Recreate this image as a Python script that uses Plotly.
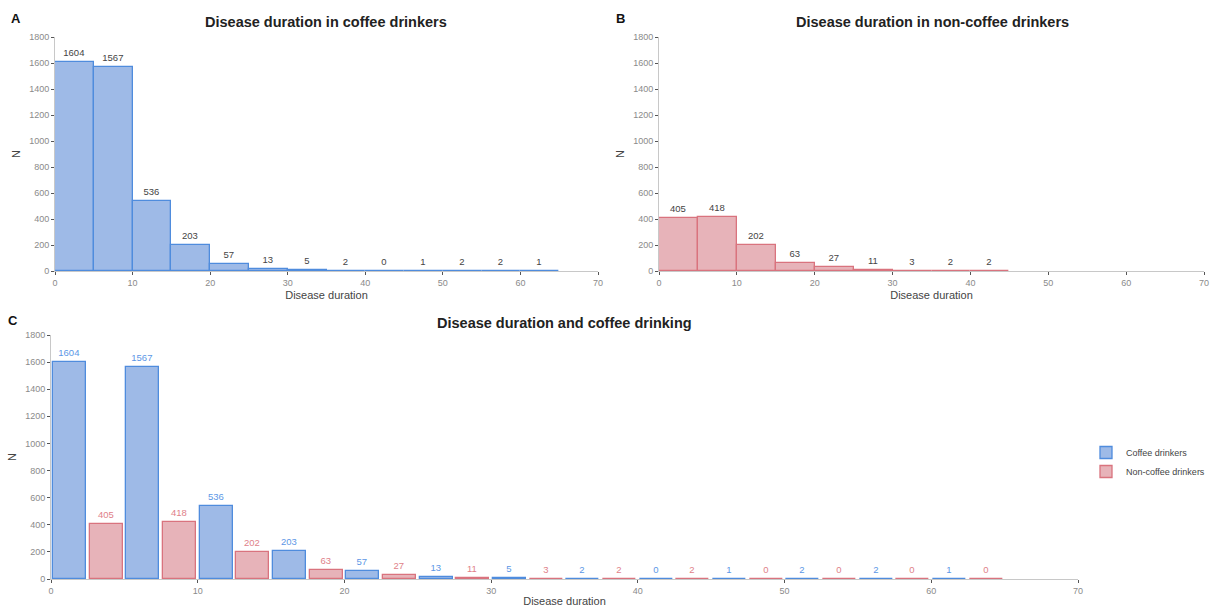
import plotly.graph_objects as go

# Histogram bins (disease duration, 5-year bins)
bin_starts = [0, 5, 10, 15, 20, 25, 30, 35, 40, 45, 50, 55, 60]
bin_width = 5
coffee_counts = [1604, 1567, 536, 203, 57, 13, 5, 2, 0, 1, 2, 2, 1]
noncoffee_counts = [405, 418, 202, 63, 27, 11, 3, 2, 2, 0, 0, 0, 0]
noncoffee_bins_shown = 9  # panel B histogram stops at 45

x_ticks = [0, 10, 20, 30, 40, 50, 60, 70]
y_ticks = [0, 200, 400, 600, 800, 1000, 1200, 1400, 1600, 1800]

BLUE_FILL = "rgba(120,160,222,0.72)"
BLUE_LINE = "#4F8CDD"
RED_FILL = "rgba(222,150,158,0.72)"
RED_LINE = "#D9737E"
BLUE_TEXT = "#5C97E6"
RED_TEXT = "#E07F89"
FONT = "Liberation Sans, Arial, sans-serif"

W, H = 1218, 607


def px_x(p):
    return p / W


def px_y(p):
    return 1 - p / H


fig = go.Figure()

centers = [s + bin_width / 2 for s in bin_starts]

# Panel A: coffee drinkers
fig.add_trace(go.Bar(
    x=centers, y=coffee_counts, width=bin_width,
    marker=dict(color=BLUE_FILL, line=dict(color=BLUE_LINE, width=1.3)),
    text=[str(v) for v in coffee_counts], textposition="outside",
    textfont=dict(size=9.5, color="#444", family=FONT),
    cliponaxis=False, showlegend=False, xaxis="x", yaxis="y",
))

# Panel B: non-coffee drinkers
nc = noncoffee_counts[:noncoffee_bins_shown]
fig.add_trace(go.Bar(
    x=centers[:noncoffee_bins_shown], y=nc, width=bin_width,
    marker=dict(color=RED_FILL, line=dict(color=RED_LINE, width=1.3)),
    text=[str(v) for v in nc], textposition="outside",
    textfont=dict(size=9.5, color="#444", family=FONT),
    cliponaxis=False, showlegend=False, xaxis="x2", yaxis="y2",
))

# Panel C: dodged bars, two groups per bin
half = bin_width / 2
dodge_w = half * 0.9
fig.add_trace(go.Bar(
    name="Coffee drinkers",
    x=[s + half / 2 for s in bin_starts], y=coffee_counts, width=dodge_w,
    marker=dict(color=BLUE_FILL, line=dict(color=BLUE_LINE, width=1.3)),
    text=[str(v) for v in coffee_counts], textposition="outside",
    textfont=dict(size=9.5, color=BLUE_TEXT, family=FONT),
    cliponaxis=False, xaxis="x3", yaxis="y3",
))
fig.add_trace(go.Bar(
    name="Non-coffee drinkers",
    x=[s + 3 * half / 2 for s in bin_starts], y=noncoffee_counts, width=dodge_w,
    marker=dict(color=RED_FILL, line=dict(color=RED_LINE, width=1.3)),
    text=[str(v) for v in noncoffee_counts], textposition="outside",
    textfont=dict(size=9.5, color=RED_TEXT, family=FONT),
    cliponaxis=False, xaxis="x3", yaxis="y3",
))

axis_common = dict(
    showgrid=False, zeroline=False, showline=True, linecolor="#C8C8C8", linewidth=1,
    ticks="outside", ticklen=3, tickcolor="#555", tickwidth=1, automargin=False,
    tickfont=dict(size=9, color="#8A8A8A", family=FONT),
)
xcommon = dict(axis_common, range=[0, 70], tickvals=x_ticks,
               title=dict(text="Disease duration", font=dict(size=11, color="#444", family=FONT), standoff=4))
ycommon = dict(axis_common, range=[0, 1800], tickvals=y_ticks,
               title=dict(text="N", font=dict(size=11, color="#444", family=FONT), standoff=6))

fig.update_layout(
    width=W, height=H,
    margin=dict(l=0, r=0, t=0, b=0, autoexpand=False),
    plot_bgcolor="white", paper_bgcolor="white",
    barmode="overlay", bargap=0,
    font=dict(family=FONT),
    xaxis=dict(xcommon, domain=[px_x(55), px_x(598)], anchor="y"),
    yaxis=dict(ycommon, domain=[px_y(271), px_y(37)], anchor="x"),
    xaxis2=dict(xcommon, domain=[px_x(659), px_x(1204)], anchor="y2"),
    yaxis2=dict(ycommon, domain=[px_y(271), px_y(37)], anchor="x2"),
    xaxis3=dict(xcommon, domain=[px_x(51), px_x(1078)], anchor="y3"),
    yaxis3=dict(ycommon, domain=[px_y(579), px_y(335)], anchor="x3"),
    legend=dict(x=px_x(1086), y=px_y(438), xanchor="left", yanchor="top",
                font=dict(size=9, color="#444", family=FONT),
                bgcolor="rgba(0,0,0,0)", tracegroupgap=0, itemwidth=30),
)

titles = [
    ("Disease duration in coffee drinkers", 326, 22),
    ("Disease duration in non-coffee drinkers", 932, 22),
    ("Disease duration and coffee drinking", 564, 323),
]
for text, cx, cy in titles:
    fig.add_annotation(text=f"<b>{text}</b>", x=px_x(cx), y=px_y(cy), xref="paper", yref="paper",
                       showarrow=False, xanchor="center", yanchor="middle",
                       font=dict(size=14.5, color="#222", family=FONT))

for letter, lx, ly in [("A", 16, 18), ("B", 620, 18), ("C", 13, 321)]:
    fig.add_annotation(text=f"<b>{letter}</b>", x=px_x(lx), y=px_y(ly), xref="paper", yref="paper",
                       showarrow=False, xanchor="center", yanchor="middle",
                       font=dict(size=13, color="#111", family=FONT))

fig.write_html("out.html")
